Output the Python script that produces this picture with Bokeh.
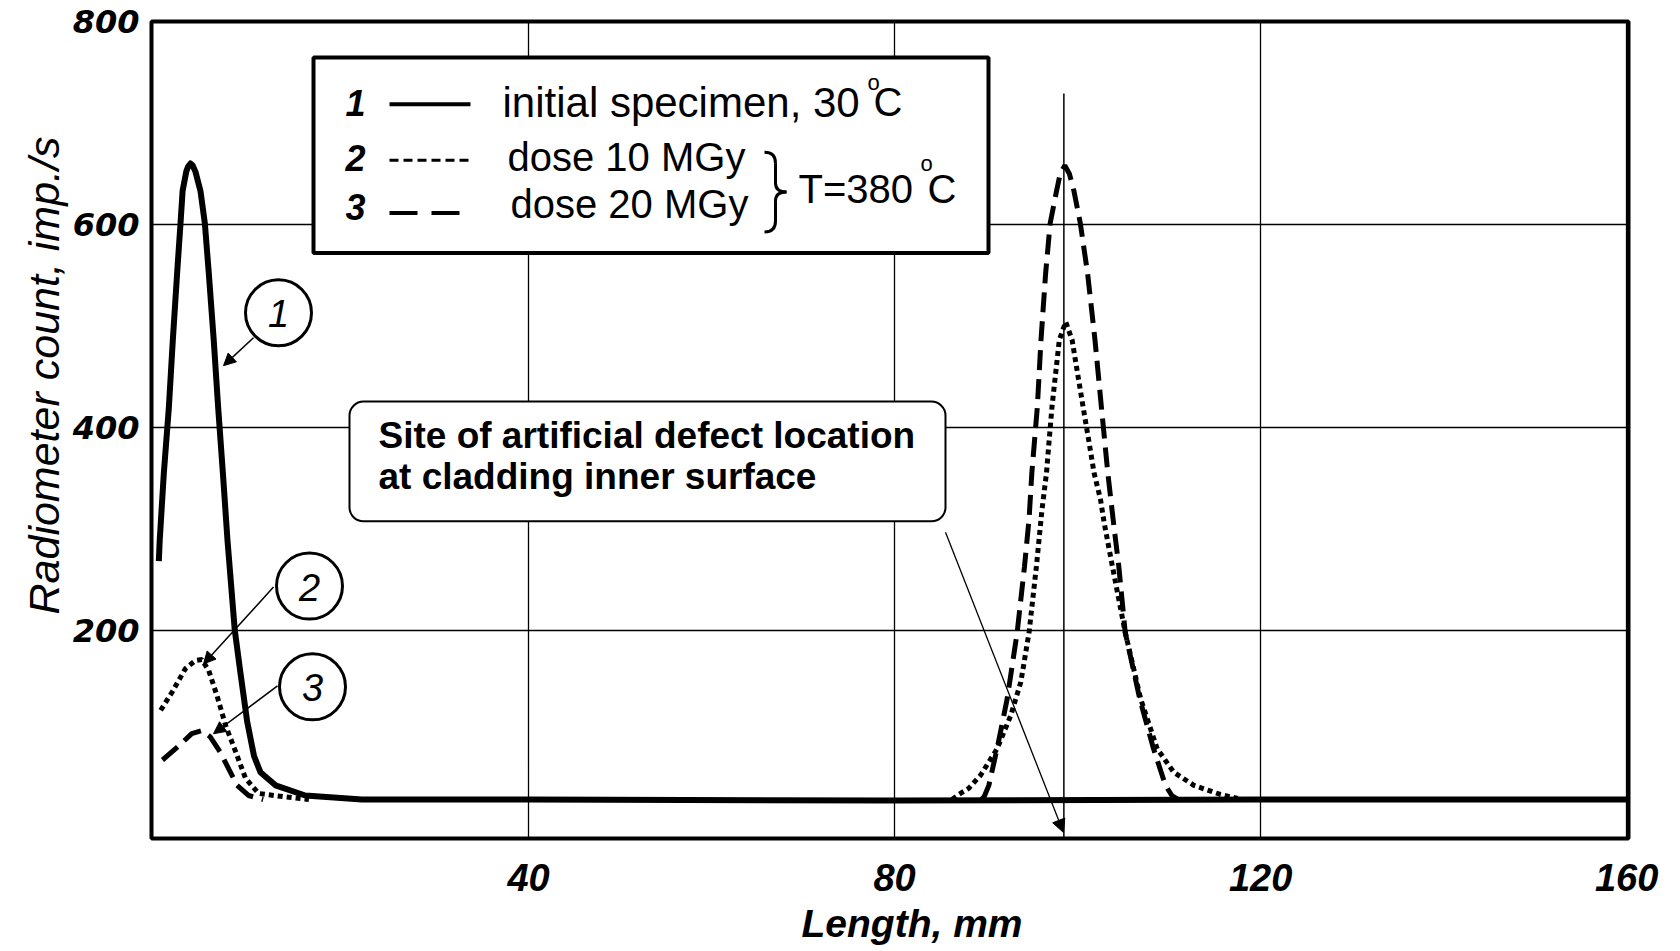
from bokeh.plotting import figure
from bokeh.models import Range1d, FixedTicker, Label, Arrow, NormalHead, BoxAnnotation, Title
from bokeh.embed import file_html
from bokeh.resources import INLINE

NaN = float("nan")

# ---------------- data ----------------
# curve 1: initial specimen, 30 C
len_1 = [-0.4, -0.3, 0.15, 0.7, 1.13, 1.6, 1.97, 2.2, 2.6, 2.8, 3.06, 3.3, 3.6, 4.15, 4.63, 5.06,
         5.6, 6.08, 6.6, 7.1, 7.9, 8.5, 9.25, 10.0, 10.7, 12.35, 15.6, 21.8, 40, 80, 120, 160]
cnt_1 = [268, 289, 355, 420, 486, 552, 601, 633, 652, 657, 660, 658, 652, 633, 601, 552,
         486, 420, 355, 289, 200, 159, 110, 76, 60, 47, 37, 33, 33, 32, 33, 33]

# curve 2: dose 10 MGy (two segments, the rest lies on curve 1's baseline)
len_2 = [-0.2, 1.06, 2.5, 3.6, 4.3, 5.06, 5.97, 6.9, 8.0, 9.07, 10.5, 13.1, 16.0, NaN,
         86.3, 87.0, 88.1, 89.4, 91.2, 92.7, 93.8, 94.7, 95.5, 96.1, 96.6, 96.9, 97.2, 97.6, 98.0,
         98.7, 99.4, 100.0, 100.6, 101.2, 101.8, 102.5, 102.9, 103.8, 105.2, 106.9, 108.7, 110.5,
         112.7, 115.6, 117.5]
cnt_2 = [121, 139, 162, 170, 171, 160, 135, 106, 80, 54, 39, 36, 33, NaN,
         33, 38, 44, 57, 83, 116, 149, 198, 263, 318, 355, 388, 420, 453, 486,
         504, 486, 453, 420, 388, 355, 329, 306, 263, 198, 132, 83, 60,
         47, 38, 34]

# curve 3: dose 20 MGy
len_3 = [0.0, 1.8, 3.2, 4.3, 5.2, 6.3, 7.25, 8.15, 9.4, 11.0, NaN,
         89.5, 89.8, 90.3, 91.2, 92.3, 93.4, 94.2, 94.7, 95.0, 95.6, 96.0, 96.5, 97.0, 97.7, 98.1,
         98.6, 99.1, 99.6, 100.3, 101.1, 101.9, 102.6, 103.3, 104.0, 104.5, 105.2, 106.8, 108.3,
         109.6, 110.3, 111.0]
cnt_3 = [72, 86, 98, 101, 95, 80, 63, 47, 37, 33, NaN,
         33, 36, 47, 83, 132, 198, 263, 310, 355, 420, 486, 551, 601, 633, 650,
         658, 650, 633, 601, 551, 486, 420, 355, 300, 263, 198, 132, 83,
         47, 37, 33]

defect_len = 98.5
defect_line_top = 729

x_ticks = [40, 80, 120, 160]
y_ticks = [200, 400, 600, 800]

legend_labels = ["initial specimen, 30", "dose 10 MGy", "dose 20 MGy"]
legend_nums = ["1", "2", "3"]

# ---------------- layout helpers ----------------
X0, X1 = -1.2, 160.2
Y0, Y1 = -5.4, 800.0
FL, FR, FT, FB = 151, 1628, 21, 840   # frame in page pixels


def dx(px):
    return X0 + (px - FL) / (FR - FL) * (X1 - X0)


def dy(py):
    return Y0 + (FB - py) / (FB - FT) * (Y1 - Y0)


W, H = 1680, 951
p = figure(width=W, height=H, x_range=Range1d(X0, X1), y_range=Range1d(Y0, Y1),
           output_backend="svg", toolbar_location=None,
           min_border_left=FL, min_border_right=W - FR, min_border_top=FT, min_border_bottom=H - FB)
p.background_fill_color = "white"
p.border_fill_color = "white"
p.outline_line_color = "black"
p.outline_line_width = 4

p.xaxis.ticker = FixedTicker(ticks=x_ticks)
p.yaxis.ticker = FixedTicker(ticks=y_ticks)
for ax in (p.xaxis[0], p.yaxis[0]):
    ax.axis_line_color = None
    ax.major_tick_line_color = None
    ax.minor_tick_line_color = None
    ax.major_tick_in = 0
    ax.major_tick_out = 0
    ax.major_label_text_color = "black"
p.xaxis.major_label_text_font = "Liberation Sans"
p.xaxis.major_label_text_font_style = "bold italic"
p.xaxis.major_label_text_font_size = "38px"
p.xaxis.major_label_standoff = 25
p.yaxis.major_label_text_font = "DejaVu Sans"
p.yaxis.major_label_text_font_style = "bold italic"
p.yaxis.major_label_text_font_size = "32px"
p.yaxis.major_label_standoff = 12

p.grid.grid_line_color = "black"
p.grid.grid_line_width = 1.3
p.grid.grid_line_alpha = 1.0

# ---------------- axis titles (side panels, never clipped) ----------------
p.add_layout(Title(text="Radiometer count, imp./s", align="left", offset=224, standoff=4,
                   text_font="Liberation Sans", text_font_style="italic",
                   text_font_size="43px", text_color="black"), "left")
p.add_layout(Title(text="Length, mm", align="left", offset=650, standoff=13,
                   text_font="Liberation Sans", text_font_style="bold italic",
                   text_font_size="39px", text_color="black"), "below")

# ---------------- curves ----------------
p.line(len_1, cnt_1, line_width=6, line_color="black", line_join="round")
p.line(len_2, cnt_2, line_width=5, line_color="black", line_dash="5 4")
p.line(len_3, cnt_3, line_width=5, line_color="black", line_dash="20 9")

# defect location marker line
p.segment(x0=[defect_len], y0=[Y0], x1=[defect_len], y1=[defect_line_top],
          line_width=1.5, line_color="black")

# ---------------- numbered circles ----------------
circ_px = [(278, 313), (309, 587), (312, 688)]
p.scatter(x=[dx(a) for a, b in circ_px], y=[dy(b) for a, b in circ_px], size=66, marker="circle",
          fill_color="white", line_color="black", line_width=3)
for (cx, cy), t in zip(circ_px, legend_nums):
    p.add_layout(Label(x=dx(cx), y=dy(cy + 1), text=t, text_align="center", text_baseline="middle",
                       text_font="Liberation Sans", text_font_style="italic",
                       text_font_size="38px", text_color="black"))

for (x0, y0, x1, y1) in [(253, 338, 223, 366), (273, 588, 203, 665), (277, 687, 213, 735)]:
    p.add_layout(Arrow(end=NormalHead(size=12, fill_color="black", line_color="black", line_width=1),
                       x_start=dx(x0), y_start=dy(y0), x_end=dx(x1), y_end=dy(y1),
                       line_width=1.5, line_color="black"))

# ---------------- defect annotation box ----------------
p.add_layout(BoxAnnotation(left=dx(349), right=dx(945), top=dy(402), bottom=dy(522),
                           fill_color="white", fill_alpha=1.0, line_color="black",
                           line_width=2, line_alpha=1.0, border_radius=14))
for t, cyy in [("Site of artificial defect location", 436), ("at cladding  inner surface", 477)]:
    p.add_layout(Label(x=dx(378), y=dy(cyy), text=t, text_align="left", text_baseline="middle",
                       text_font="Liberation Sans", text_font_style="bold",
                       text_font_size="37px", text_color="black"))
p.add_layout(Arrow(end=NormalHead(size=13, fill_color="black", line_color="black", line_width=1),
                   x_start=dx(945), y_start=dy(533), x_end=dx(1063), y_end=dy(834),
                   line_width=1.3, line_color="black"))

# ---------------- legend box ----------------
p.add_layout(BoxAnnotation(left=dx(313), right=dx(988), top=dy(57), bottom=dy(253),
                           fill_color="white", fill_alpha=1.0, line_color="black",
                           line_width=4, line_alpha=1.0))
row_mid = [102, 157, 204]
num_mid = [103, 158, 207]
row_line = [104, 160, 213]
text_left = [502, 507, 510]
text_size = ["42px", "40px", "40px"]
dashes = ["solid", "9 5", "28 14"]
lw = [4, 3, 4]
for i in range(3):
    p.add_layout(Label(x=dx(345), y=dy(num_mid[i]), text=legend_nums[i], text_align="left",
                       text_baseline="middle", text_font="Liberation Sans",
                       text_font_style="bold italic", text_font_size="36px", text_color="black"))
    p.line([dx(389), dx(470) if i < 2 else dx(459)], [dy(row_line[i])] * 2, line_width=lw[i],
           line_color="black", line_dash=dashes[i], level="overlay")
    p.add_layout(Label(x=dx(text_left[i]), y=dy(row_mid[i]), text=legend_labels[i], text_align="left",
                       text_baseline="middle", text_font="Liberation Sans",
                       text_font_size=text_size[i], text_color="black"))

# degree signs / C
for (ox, oy, cx, cy) in [(867, 82, 873, 102), (920, 163, 927, 189)]:
    p.add_layout(Label(x=dx(ox), y=dy(oy), text="o", text_align="left", text_baseline="middle",
                       text_font="Liberation Sans", text_font_size="22px", text_color="black"))
    p.add_layout(Label(x=dx(cx), y=dy(cy), text="C", text_align="left", text_baseline="middle",
                       text_font="Liberation Sans", text_font_size="40px", text_color="black"))
p.add_layout(Label(x=dx(798), y=dy(189), text="T=380", text_align="left", text_baseline="middle",
                   text_font="Liberation Sans", text_font_size="40px", text_color="black"))

# brace
bz = [((764, 152), (771, 152), (775, 155), (775, 163)),
      ((775, 183), (775, 189), (779, 192), (786, 192)),
      ((786, 192), (779, 192), (775, 195), (775, 201)),
      ((775, 221), (775, 229), (771, 232), (764, 232))]
p.bezier(x0=[dx(b[0][0]) for b in bz], y0=[dy(b[0][1]) for b in bz],
         cx0=[dx(b[1][0]) for b in bz], cy0=[dy(b[1][1]) for b in bz],
         cx1=[dx(b[2][0]) for b in bz], cy1=[dy(b[2][1]) for b in bz],
         x1=[dx(b[3][0]) for b in bz], y1=[dy(b[3][1]) for b in bz],
         line_width=3, line_color="black", level="overlay")
p.segment(x0=[dx(775), dx(775)], y0=[dy(163), dy(201)], x1=[dx(775), dx(775)], y1=[dy(183), dy(221)],
          line_width=3, line_color="black", level="overlay")

open("out.html", "w").write(file_html(p, INLINE))
